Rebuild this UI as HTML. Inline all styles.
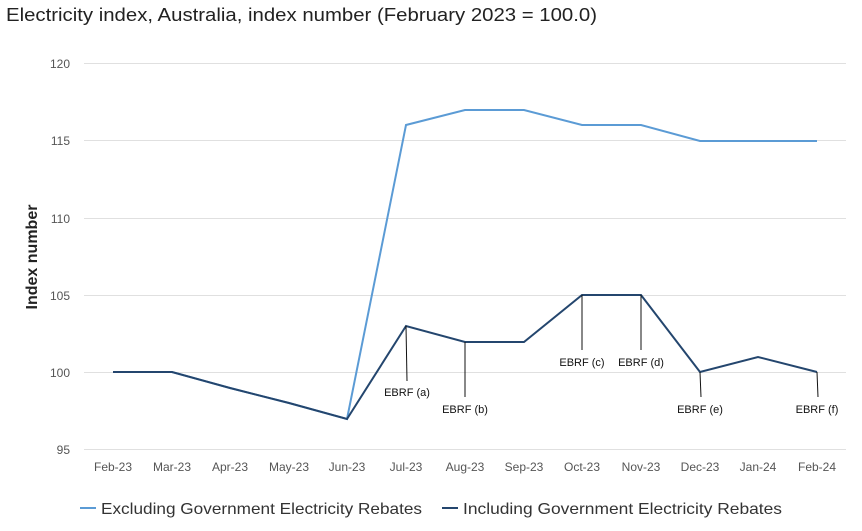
<!DOCTYPE html>
<html><head><meta charset="utf-8"><style>
body{margin:0;background:#fff;}
svg text{font-family:"Liberation Sans",sans-serif;}
</style></head><body>
<svg width="862" height="526" xmlns="http://www.w3.org/2000/svg">
<text x="6" y="21" font-size="18" fill="#222" textLength="591" lengthAdjust="spacingAndGlyphs">Electricity index, Australia, index number (February 2023 = 100.0)</text>
<g stroke="#e0e0e0" stroke-width="1">
<line x1="84" x2="846" y1="63.5" y2="63.5"/>
<line x1="84" x2="846" y1="140.5" y2="140.5"/>
<line x1="84" x2="846" y1="218.5" y2="218.5"/>
<line x1="84" x2="846" y1="295.5" y2="295.5"/>
<line x1="84" x2="846" y1="372.5" y2="372.5"/>
<line x1="84" x2="846" y1="449.5" y2="449.5"/>
</g>
<g font-size="12" fill="#555" text-anchor="end">
<text x="70" y="68">120</text><text x="70" y="145">115</text><text x="70" y="223">110</text>
<text x="70" y="300">105</text><text x="70" y="377">100</text><text x="70" y="454">95</text>
</g>
<text transform="translate(37,257) rotate(-90)" font-size="16" font-weight="bold" fill="#222" text-anchor="middle">Index number</text>
<g font-size="12" fill="#555" text-anchor="middle">
<text x="113" y="471">Feb-23</text><text x="172" y="471">Mar-23</text><text x="230" y="471">Apr-23</text>
<text x="289" y="471">May-23</text><text x="347" y="471">Jun-23</text><text x="406" y="471">Jul-23</text>
<text x="465" y="471">Aug-23</text><text x="524" y="471">Sep-23</text><text x="582" y="471">Oct-23</text>
<text x="641" y="471">Nov-23</text><text x="700" y="471">Dec-23</text><text x="758" y="471">Jan-24</text>
<text x="817" y="471">Feb-24</text>
</g>
<polyline fill="none" stroke="#5b9bd5" stroke-width="2" points="113,372 172,372 230,388 289,403 347,419 406,125 465,110 524,110 582,125 641,125 700,141 758,141 817,141"/>
<polyline fill="none" stroke="#24466e" stroke-width="2" points="113,372 172,372 230,388 289,403 347,419 406,326 465,342 524,342 582,295 641,295 700,372 758,357 817,372"/>
<g stroke="#111" stroke-width="1">
<line x1="406" y1="326" x2="407" y2="381"/>
<line x1="465" y1="342" x2="465" y2="397"/>
<line x1="582" y1="295" x2="582" y2="350"/>
<line x1="641" y1="295" x2="641" y2="350"/>
<line x1="700" y1="372" x2="701" y2="397"/>
<line x1="817" y1="372" x2="818" y2="397"/>
</g>
<g font-size="11" fill="#111" text-anchor="middle">
<text x="407" y="396">EBRF (a)</text>
<text x="465" y="413">EBRF (b)</text>
<text x="582" y="366">EBRF (c)</text>
<text x="641" y="366">EBRF (d)</text>
<text x="700" y="413">EBRF (e)</text>
<text x="817" y="413">EBRF (f)</text>
</g>
<line x1="80" x2="96" y1="508" y2="508" stroke="#5b9bd5" stroke-width="2"/>
<text x="101" y="514" font-size="16" fill="#333" textLength="321" lengthAdjust="spacingAndGlyphs">Excluding Government Electricity Rebates</text>
<line x1="442" x2="458" y1="508" y2="508" stroke="#24466e" stroke-width="2"/>
<text x="463" y="514" font-size="16" fill="#333" textLength="319" lengthAdjust="spacingAndGlyphs">Including Government Electricity Rebates</text>
</svg>
</body></html>
